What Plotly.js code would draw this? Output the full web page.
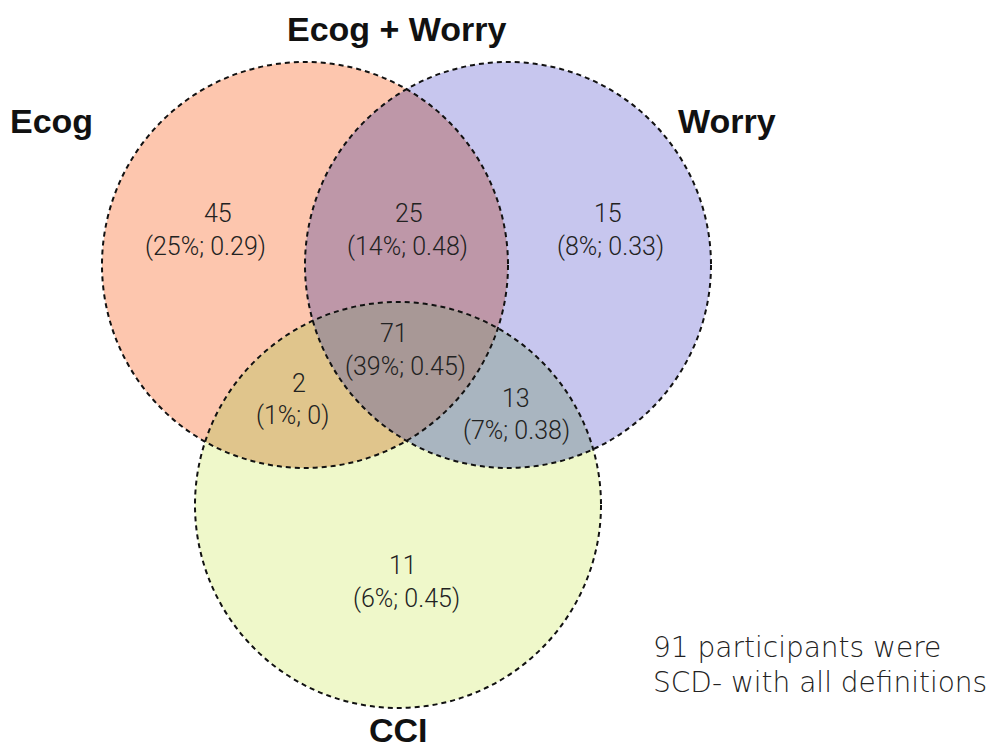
<!DOCTYPE html>
<html>
<head>
<meta charset="utf-8">
<script src="https://cdn.plot.ly/plotly-3.0.1.min.js"></script>
<style>
  html, body { margin: 0; padding: 0; background: #ffffff; }
  #chart { width: 988px; height: 750px; }
</style>
</head>
<body>
<div id="chart"></div>
<script>
// ---------------- data ----------------
const setNames = ['Ecog', 'Worry', 'CCI'];
const pairLabel = 'Ecog + Worry';
const regionNames = ['Ecog only', 'Ecog + Worry', 'Worry only', 'All three', 'Ecog + CCI', 'Worry + CCI', 'CCI only'];
const regionCounts = [45, 25, 15, 71, 2, 13, 11];
const regionPercents = [25, 14, 8, 39, 1, 7, 6];
const regionKappas = ['0.29', '0.48', '0.33', '0.45', '0', '0.38', '0.45'];
const negativeCount = 91;
const noteLines = [negativeCount + ' participants were', 'SCD- with all definitions'];

// ---------------- geometry (pixel-like data coordinates) ----------------
const circles = [
  { cx: 305, cy: 265, r: 203 },   // Ecog
  { cx: 508, cy: 265, r: 203 },   // Worry
  { cx: 398, cy: 505, r: 203 }    // CCI
];
const circleColors = ['#FDC6AE', '#C7C6EE', '#EFF8CA'];
const overlapPaint = [
  { sets: [0, 1], color: '#BE97A8' },
  { sets: [0, 2], color: '#E0C58C' },
  { sets: [1, 2], color: '#A9B5C0' },
  { sets: [0, 1, 2], color: '#A89896' }
];
const labelPos = [
  { cx: 218, cy: 213, px: 205, py: 246 },
  { cx: 409, cy: 213, px: 407, py: 246 },
  { cx: 608, cy: 213, px: 610, py: 246 },
  { cx: 394, cy: 333, px: 405, py: 366 },
  { cx: 299, cy: 383, px: 292, py: 415 },
  { cx: 516, cy: 398, px: 516, py: 430 },
  { cx: 403, cy: 565, px: 406, py: 598 }
];
const setLabelPos = [
  { x: 51, y: 121 },
  { x: 727, y: 121 },
  { x: 398, y: 730 }
];
const pairLabelPos = { x: 397, y: 29 };

function intersectionPolygon(idx) {
  let px = 0, py = 0;
  idx.forEach(i => { px += circles[i].cx; py += circles[i].cy; });
  px /= idx.length; py /= idx.length;
  const xs = [], ys = [];
  const N = 720;
  for (let k = 0; k <= N; k++) {
    const a = 2 * Math.PI * k / N;
    const dx = Math.cos(a), dy = Math.sin(a);
    let tmin = Infinity;
    idx.forEach(i => {
      const c = circles[i];
      const fx = px - c.cx, fy = py - c.cy;
      const b = fx * dx + fy * dy;
      const cc = fx * fx + fy * fy - c.r * c.r;
      const t = -b + Math.sqrt(b * b - cc);
      if (t < tmin) tmin = t;
    });
    xs.push(px + tmin * dx);
    ys.push(py + tmin * dy);
  }
  return { xs, ys };
}

const traces = [];
circles.forEach((c, i) => {
  const poly = intersectionPolygon([i]);
  traces.push({
    type: 'scatter', mode: 'lines', x: poly.xs, y: poly.ys,
    fill: 'toself', fillcolor: circleColors[i],
    line: { width: 0, color: circleColors[i] }, hoverinfo: 'skip', showlegend: false
  });
});
overlapPaint.forEach(o => {
  const poly = intersectionPolygon(o.sets);
  traces.push({
    type: 'scatter', mode: 'lines', x: poly.xs, y: poly.ys,
    fill: 'toself', fillcolor: o.color,
    line: { width: 0, color: o.color }, hoverinfo: 'skip', showlegend: false
  });
});

const shapes = circles.map(c => ({
  type: 'circle', xref: 'x', yref: 'y',
  x0: c.cx - c.r, x1: c.cx + c.r, y0: c.cy - c.r, y1: c.cy + c.r,
  line: { color: '#111111', width: 2, dash: '5px,4px' },
  fillcolor: 'rgba(0,0,0,0)', layer: 'above'
}));

const bodyFont = { family: 'Roboto, "DejaVu Sans", sans-serif', size: 25, color: '#222222', weight: 300 };
const boldFont = { family: '"Liberation Sans", Arial, sans-serif', size: 34, color: '#111111', weight: 700 };
const noteFont = { family: '"DejaVu Sans", sans-serif', size: 28, color: '#222222', weight: 300 };

const annotations = [];
regionCounts.forEach((n, i) => {
  const p = labelPos[i];
  annotations.push({ x: p.cx, y: p.cy, xref: 'x', yref: 'y', text: String(n), showarrow: false, font: bodyFont, xanchor: 'center', yanchor: 'middle' });
  annotations.push({ x: p.px, y: p.py, xref: 'x', yref: 'y', text: '(' + regionPercents[i] + '%; ' + regionKappas[i] + ')', showarrow: false, font: bodyFont, xanchor: 'center', yanchor: 'middle' });
});
setNames.forEach((s, i) => {
  annotations.push({ x: setLabelPos[i].x, y: setLabelPos[i].y, xref: 'x', yref: 'y', text: '<b>' + s + '</b>', showarrow: false, font: boldFont, xanchor: 'center', yanchor: 'middle' });
});
annotations.push({ x: pairLabelPos.x, y: pairLabelPos.y, xref: 'x', yref: 'y', text: '<b>' + pairLabel + '</b>', showarrow: false, font: boldFont, xanchor: 'center', yanchor: 'middle' });
noteLines.forEach((t, i) => {
  annotations.push({ x: 651, y: 647 + i * 35, xref: 'x', yref: 'y', text: t, showarrow: false, font: noteFont, xanchor: 'left', yanchor: 'middle' });
});

const layout = {
  width: 988, height: 750,
  margin: { l: 0, r: 0, t: 0, b: 0, pad: 0 },
  paper_bgcolor: '#ffffff', plot_bgcolor: '#ffffff',
  xaxis: { range: [0, 988], visible: false, fixedrange: true },
  yaxis: { range: [750, 0], visible: false, fixedrange: true },
  shapes: shapes,
  annotations: annotations,
  showlegend: false
};

Plotly.newPlot('chart', traces, layout, { staticPlot: true, displayModeBar: false });
</script>
</body>
</html>
